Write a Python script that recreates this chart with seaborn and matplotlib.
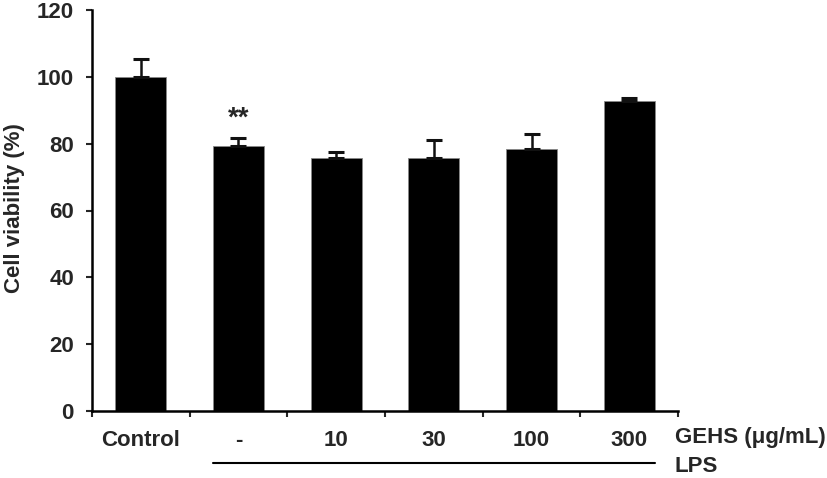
import matplotlib
matplotlib.use("Agg")
import matplotlib.pyplot as plt
import seaborn as sns
import pandas as pd
import numpy as np
from matplotlib.ticker import FixedLocator

categories = ["Control", "-", "10", "30", "100", "300"]
viability = [100.0, 79.2, 75.8, 75.6, 78.3, 92.8]
sd_upper = [5.2, 2.6, 1.8, 5.5, 4.5, 0.8]
yticks = [0, 20, 40, 60, 80, 100, 120]

sns.set_theme(style="white")
plt.rcParams['font.family'] = ['Liberation Sans', 'DejaVu Sans']
plt.rcParams['font.weight'] = 'bold'

FS = 16
df = pd.DataFrame({"group": categories, "value": viability})

fig = plt.figure(figsize=(8.27, 4.78), dpi=100)
ax = fig.add_axes([92/827, 1-411/478, (678-92)/827, (411-10)/478])

sns.barplot(data=df, x="group", y="value", order=categories, color="black",
            width=0.52, errorbar=None, ax=ax, saturation=1, edgecolor="#888888", linewidth=0.6)
pos = np.arange(len(categories))
ax.errorbar(pos, viability, yerr=[np.zeros(len(sd_upper)), sd_upper], fmt="none",
            ecolor="#111111", elinewidth=1.8, capsize=5.5, capthick=2.2, zorder=1)

ax.set_xlim(-0.5, len(categories) - 0.5)
ax.set_ylim(0, 120)
ax.set_yticks(yticks)
ax.set_yticklabels([str(t) for t in yticks], fontsize=FS, fontweight='bold')
ax.set_xticks(pos)
ax.set_xticklabels(categories, fontsize=FS, fontweight='bold')
ax.tick_params(axis='x', which='major', length=0, pad=14)
ax.xaxis.set_minor_locator(FixedLocator(np.arange(-0.5, len(categories), 1.0)))
ax.tick_params(axis='x', which='minor', length=4, width=1.5, direction='out', bottom=True)
ax.tick_params(axis='y', which='major', length=4, width=1.5, direction='out', left=True, pad=9)
ax.set_xlabel("")
ax.set_ylabel("Cell viability (%)", fontsize=FS, fontweight='bold', va='center')
ax.yaxis.set_label_coords((15 - 92) / 586, 0.505)
for s in ["top", "right"]:
    ax.spines[s].set_visible(False)
for s in ["left", "bottom"]:
    ax.spines[s].set_linewidth(1.8)
    ax.spines[s].set_color("black")

ax.text(1, 83.5, "**", ha="center", va="bottom", fontsize=20, fontweight='bold')

fig.text(675/827, 1-437/478, "GEHS (\u03bcg/mL)", ha="left", va="center", fontsize=FS, fontweight='bold')
fig.text(675/827, 1-467/478, "LPS", ha="left", va="center", fontsize=FS, fontweight='bold')
fig.add_artist(plt.Line2D([213/827, 655/827], [1-463/478, 1-463/478], color="black", linewidth=1.5))

fig.savefig("out.png", dpi=100)
